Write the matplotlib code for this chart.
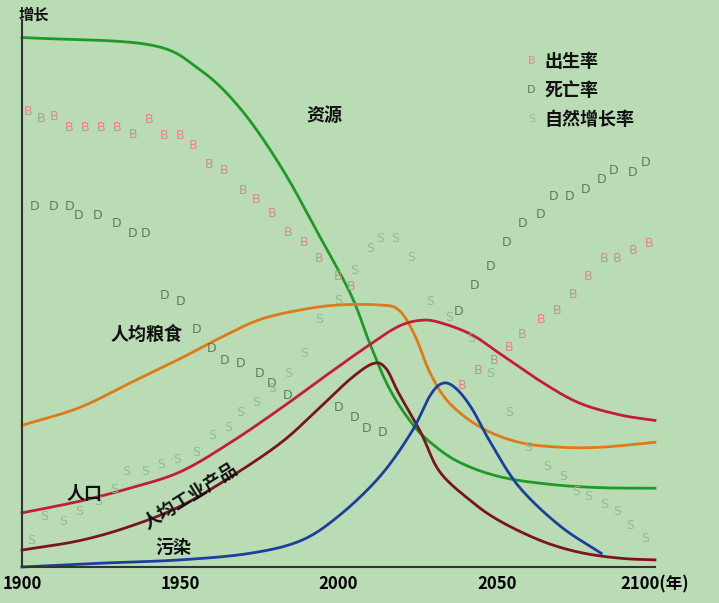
import matplotlib
matplotlib.use("Agg")
import numpy as np
from matplotlib import pyplot as plt

plt.rcParams['font.family'] = ['Noto Sans CJK SC', 'DejaVu Sans']

# curves (year, relative value 0-100)
res_year = [1900, 1940, 1956, 1969, 1982, 1994, 2004, 2010, 2016, 2023, 2029, 2038, 2051, 2067, 2083, 2100]
res_val = [96.8, 95.5, 91, 83.8, 73, 60.5, 49.7, 40.7, 32.7, 26.4, 22.8, 19.2, 16.5, 15.1, 14.5, 14.4]
food_year = [1900, 1918, 1934, 1950, 1963, 1975, 1988, 2000, 2013, 2019, 2024, 2029, 2035, 2045, 2057, 2070, 2083, 2100]
food_val = [25.9, 29.1, 33.6, 38.1, 42, 45.2, 47, 47.9, 47.9, 47, 42.5, 35.4, 30, 25.5, 22.8, 21.9, 21.9, 22.8]
pop_year = [1900, 1918, 1934, 1950, 1966, 1982, 1997, 2010, 2019, 2026, 2032, 2042, 2051, 2064, 2076, 2089, 2100]
pop_val = [9.9, 12, 14.4, 17.4, 22.8, 29.1, 35.4, 40.7, 44, 45.1, 44.7, 42.5, 39, 33.9, 30, 27.8, 26.8]
ind_year = [1900, 1918, 1934, 1950, 1966, 1982, 1994, 2004, 2011, 2015, 2019, 2026, 2032, 2042, 2051, 2064, 2076, 2089, 2100]
ind_val = [3.1, 4.8, 7.4, 11.1, 16.5, 22.8, 29.1, 34.5, 37.2, 36.3, 31.8, 24.6, 17.4, 12, 8.4, 4.8, 2.7, 1.6, 1.3]
pol_year = [1900, 1925, 1950, 1972, 1988, 2000, 2013, 2023, 2029, 2033, 2037, 2042, 2048, 2057, 2070, 2083]
pol_val = [0, 0.7, 1.3, 2.5, 4.8, 9.3, 16.5, 24.6, 31.4, 33.6, 32.7, 29.1, 22.8, 14.7, 7.5, 2.5]

# letter markers: B birth rate, D death rate, S natural growth rate
b_year = [1902, 1906, 1910, 1915, 1920, 1925, 1930, 1935, 1940, 1945, 1950, 1954, 1959, 1964, 1970, 1974,
          1979, 1984, 1989, 1994, 2000, 2004,
          2039, 2044, 2049, 2054, 2058, 2064, 2069, 2074, 2079, 2084, 2088, 2093, 2098]
b_val = [83.3, 82, 82.4, 80.4, 80.4, 80.4, 80.4, 79, 81.9, 78.8, 78.8, 77, 73.6, 72.5, 68.9, 67.1,
         64.6, 61.2, 59.4, 56.4, 53.1, 51.3,
         33.2, 35.9, 37.7, 40.2, 42.5, 45.2, 46.9, 49.9, 53.1, 56.4, 56.4, 57.8, 59.2]
d_year = [1904, 1910, 1915, 1918, 1924, 1930, 1935, 1939, 1945, 1950, 1955, 1960, 1964, 1969, 1975, 1979,
          1984, 2000, 2005, 2009, 2014,
          2038, 2043, 2048, 2053, 2058, 2064, 2068, 2073, 2078, 2083, 2087, 2093, 2097]
d_val = [65.9, 65.9, 65.9, 64.3, 64.3, 62.8, 61, 61, 49.7, 48.5, 43.4, 39.9, 37.7, 37.2, 35.4, 33.6,
         31.4, 29.1, 27.3, 25.3, 24.6,
         46.7, 51.5, 54.9, 59.4, 62.8, 64.5, 67.7, 67.7, 69.1, 70.9, 72.5, 72.2, 74]
s_year = [1903, 1907, 1913, 1918, 1924, 1929, 1933, 1939, 1944, 1949, 1955, 1960, 1965, 1969, 1974, 1979,
          1984, 1989, 1994, 2000, 2005, 2010, 2013, 2018, 2023, 2029, 2035, 2042, 2048, 2054, 2060, 2066,
          2071, 2075, 2079, 2084, 2088, 2092, 2097]
s_val = [4.8, 9.3, 8.4, 10.2, 12, 14.2, 17.4, 17.4, 18.7, 19.6, 21, 24.1, 25.5, 28.2, 30, 32.7,
         35.4, 39, 45.2, 48.8, 54.2, 58.3, 60, 60, 56.6, 48.5, 45.6, 41.7, 35.4, 28.2, 21.9, 18.3,
         16.5, 13.8, 12.9, 11.5, 10.2, 7.5, 5.2]
year_ticks = [1900, 1950, 2000, 2050, 2100]
year_labels = ['1900', '1950', '2000', '2050', '2100(年)']


def smooth(x, y, n=12):
    # catmull-rom through the read points, only to draw a rounded line
    x = np.asarray(x, float)
    y = np.asarray(y, float)
    px = np.concatenate([[2 * x[0] - x[1]], x, [2 * x[-1] - x[-2]]])
    py = np.concatenate([[2 * y[0] - y[1]], y, [2 * y[-1] - y[-2]]])
    t = np.linspace(0, 1, n, endpoint=False)[:, None]
    xs, ys = [], []
    for p in (px, py):
        p0, p1, p2, p3 = p[:-3], p[1:-2], p[2:-1], p[3:]
        seg = 0.5 * (2 * p1 + (-p0 + p2) * t + (2 * p0 - 5 * p1 + 4 * p2 - p3) * t ** 2
                     + (-p0 + 3 * p1 - 3 * p2 + p3) * t ** 3)
        (xs if p is px else ys).append(np.append(seg.T.ravel(), p[-2]))
    return xs[0], ys[0]


bg = '#b9dcb5'
fig = plt.figure(figsize=(7.19, 6.03), dpi=100, facecolor=bg)
ax = fig.add_axes([22 / 719, 36 / 603, 633 / 719, 547 / 603], facecolor=bg)
ax.set_xlim(1900, 2100)
ax.set_ylim(0, 100)

cols = {'B': '#d88a84', 'D': '#5f7a60', 'S': '#93b993'}
for lab, x, y in [('B', b_year, b_val), ('D', d_year, d_val), ('S', s_year, s_val)]:
    for xi, yi in zip(x, y):
        ax.text(xi, yi, lab, color=cols[lab], fontsize=9, ha='center', va='center', family='DejaVu Sans')

for x, y, c in [(res_year, res_val, '#1e9a26'), (food_year, food_val, '#e07a18'),
                (pop_year, pop_val, '#c41d3a'), (ind_year, ind_val, '#7a1420'),
                (pol_year, pol_val, '#1d3f9c')]:
    sx, sy = smooth(x, y)
    ax.plot(sx, sy, color=c, lw=2, clip_on=False)

bold = dict(fontsize=13, fontweight='bold', color='#111')
ax.text(1990, 81.5, '资源', **bold)
ax.text(1928, 41.5, '人均粮食', **bold)
ax.text(1914, 12.4, '人口', **bold)
ax.text(1937, 7, '人均工业产品', rotation=32, **bold)
ax.text(1942, 2.5, '污染', **bold)
ax.text(1899, 101, '增长', fontsize=11, fontweight='bold', color='#111', va='center', clip_on=False)

for i, lab in enumerate(['B', 'D', 'S']):
    y = 92.5 - i * 5.3
    ax.text(2061, y, lab, color=cols[lab], fontsize=8, ha='center', va='center', family='DejaVu Sans')
    ax.text(2065, y, ['出生率', '死亡率', '自然增长率'][i], fontsize=13, fontweight='bold',
            color='#111', va='center')

for s in ['top', 'right']:
    ax.spines[s].set_visible(False)
for s in ['left', 'bottom']:
    ax.spines[s].set_color('#333')
    ax.spines[s].set_linewidth(1.5)
ax.set_yticks([])
ax.set_xticks(year_ticks)
ax.set_xticklabels(year_labels, fontsize=12, fontweight='bold')
ax.tick_params(axis='x', length=0, pad=6)
fig.savefig('out.png', dpi=100, facecolor=bg)
